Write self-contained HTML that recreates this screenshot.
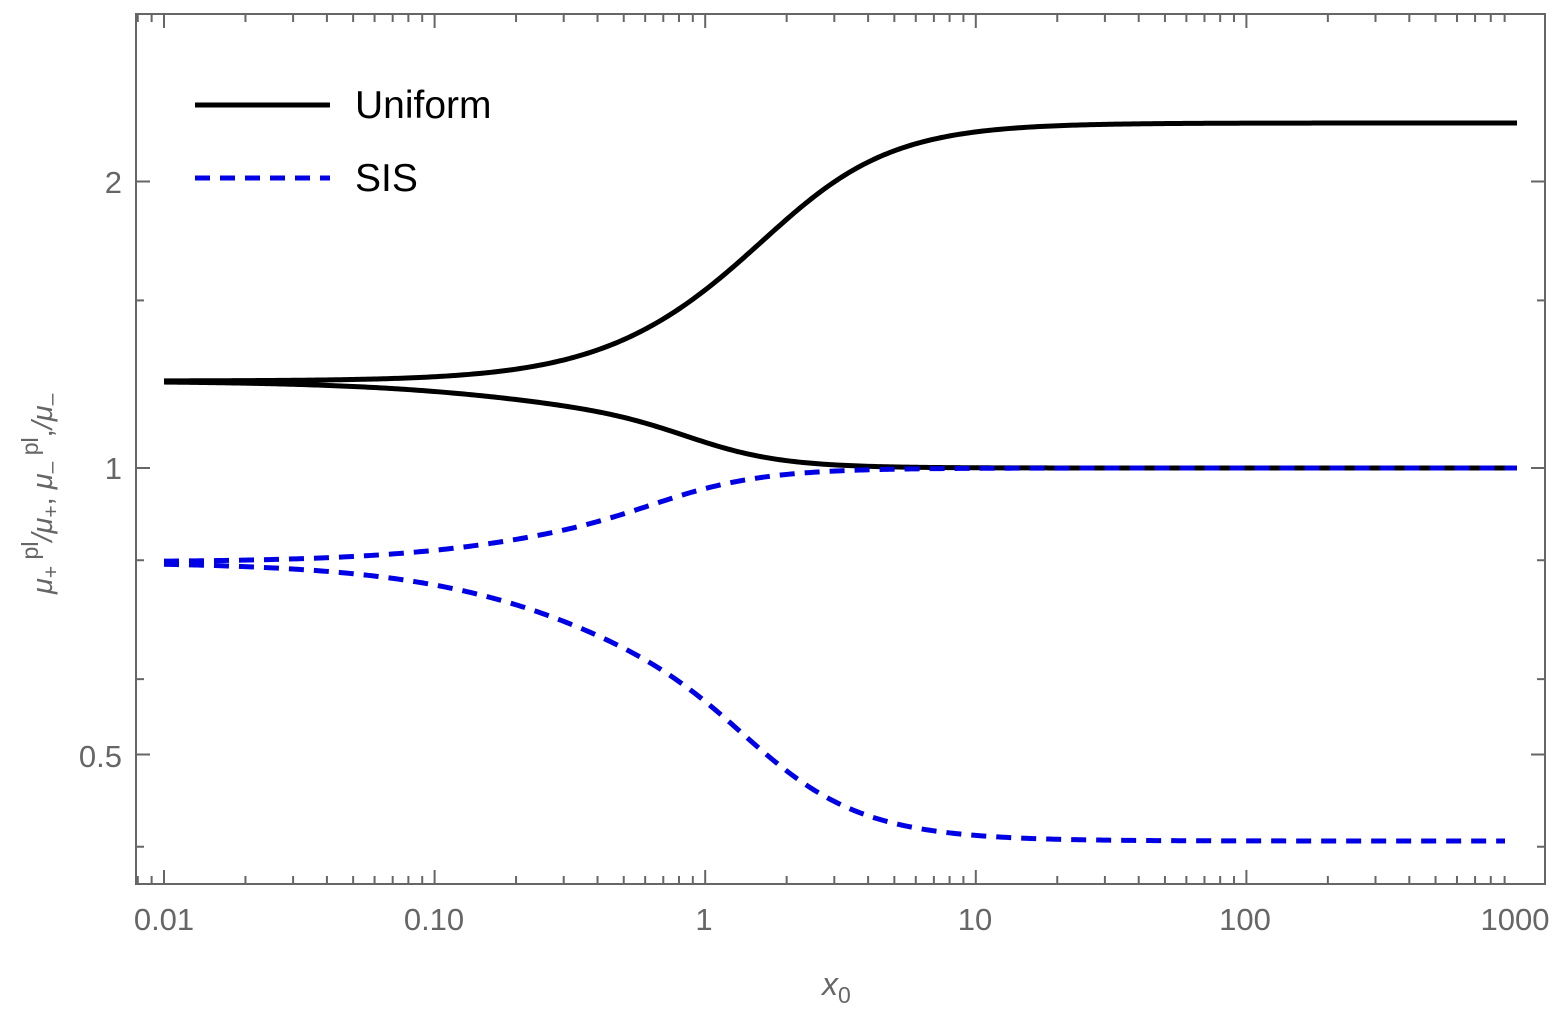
<!DOCTYPE html>
<html><head><meta charset="utf-8"><style>
html,body{margin:0;padding:0;background:#fff;}
svg{display:block;}
text{font-family:"Liberation Sans",sans-serif;fill:#666;}
</style></head><body>
<svg width="1562" height="1010" viewBox="0 0 1562 1010">
<g stroke="#666" stroke-width="2" fill="none">
<rect x="136" y="14" width="1409" height="870"/>
<g id="xt"></g>
</g>
<g font-size="31" text-anchor="middle">
<text x="164" y="930">0.01</text>
<text x="434" y="930">0.10</text>
<text x="704" y="930">1</text>
<text x="975" y="930">10</text>
<text x="1245" y="930">100</text>
<text x="1515" y="930">1000</text>
</g>
<g font-size="31" text-anchor="end">
<text x="122" y="193">2</text>
<text x="122" y="479">1</text>
<text x="122" y="767">0.5</text>
</g>
<text x="822" y="995" font-size="32" font-style="italic">x<tspan font-size="23" dy="8" font-style="normal">0</tspan></text>
<text transform="translate(52,594) rotate(-90)" font-size="29" font-style="italic">μ<tspan font-size="21" dy="6" font-style="normal">+</tspan><tspan font-size="23" dy="-20" font-style="normal"> pl</tspan><tspan dy="14">/μ</tspan><tspan font-size="21" dy="6" font-style="normal">+</tspan><tspan dy="-6" font-style="normal">,  </tspan>μ<tspan font-size="21" dy="6" font-style="normal">–</tspan><tspan font-size="23" dy="-20" font-style="normal"> pl</tspan><tspan dy="14" font-style="normal">,</tspan><tspan>/μ</tspan><tspan font-size="21" dy="6" font-style="normal">–</tspan></text>
<g fill="none" stroke-width="5">
<path id="c1" stroke="#000"/>
<path id="c2" stroke="#000"/>
<path id="c3" stroke="#0000e6" stroke-dasharray="15,10"/>
<path id="c4" stroke="#0000e6" stroke-dasharray="15,10"/>
<line x1="195" y1="105" x2="330" y2="105" stroke="#000"/>
<line x1="195" y1="178" x2="330" y2="178" stroke="#0000e6" stroke-dasharray="15,10"/>
</g>
<text x="355" y="118" font-size="39" style="fill:#000">Uniform</text>
<text x="355" y="191" font-size="39" style="fill:#000">SIS</text>
</svg>
<script>
function curve(id,y0,y1,m,kl,kr,xend){let d="";for(let x=164;x<=xend;x+=3){const u=(x-164)/270.6-2;const k=(kl+kr)/2+(kr-kl)/2*Math.tanh(2.5*(u-m));const s=1/(1+Math.exp(-k*(u-m)));const y=y0+(y1-y0)*s;d+=(d?" L":"M")+x.toFixed(1)+","+y.toFixed(2);}document.getElementById(id).setAttribute("d",d);}
curve("c1",381,123,0.166,3.5,4.0,1517);
curve("c2",381,468,-0.204,2.45,4.9,1517);
curve("c3",562,468,-0.315,2.8,4.3,1517);
curve("c4",562,841,0.0,2.4,3.9,1505);
let s="";
for(let d=-1;d<5;d++)for(let m=1;m<10;m++){const x=164+270.6*(d+Math.log10(m));if(x<137||x>1544)continue;const L=m==1?14:8;s+=`<line x1="${x}" y1="884" x2="${x}" y2="${884-L}"/><line x1="${x}" y1="14" x2="${x}" y2="${14+L}"/>`;}
const ys=[[2,14],[1,14],[0.5,14],[1.5,8],[0.8,8],[0.6,8],[0.4,8]];
for(const [v,L] of ys){const y=468-286.5*Math.log2(v);s+=`<line x1="136" y1="${y}" x2="${136+L}" y2="${y}"/><line x1="1545" y1="${y}" x2="${1545-L}" y2="${y}"/>`;}
document.getElementById("xt").innerHTML=s;
</script>
</body></html>
